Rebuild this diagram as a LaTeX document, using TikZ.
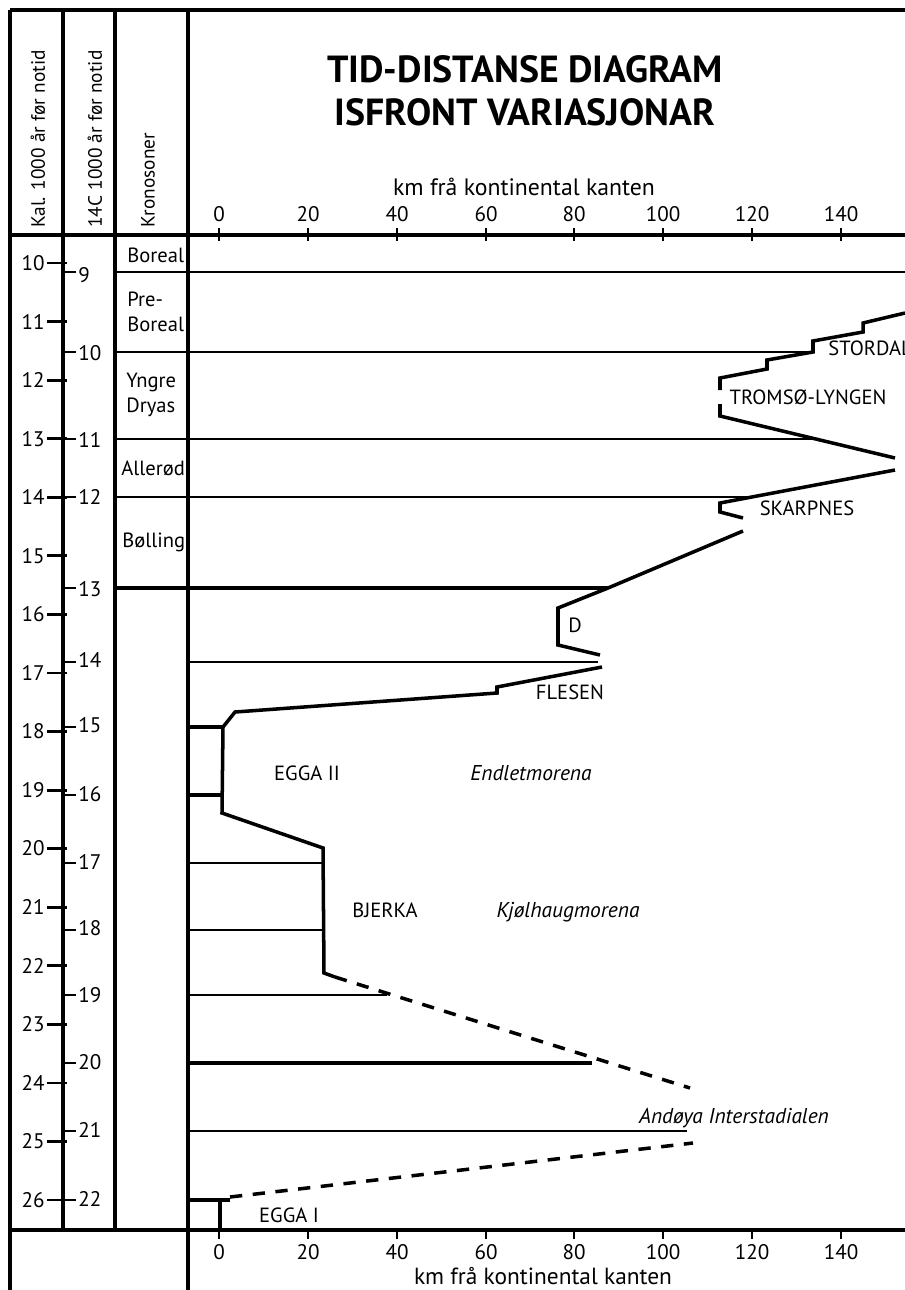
\documentclass[tikz,border=0pt]{standalone}
\usepackage{fontspec}
\setmainfont{PT Sans}

\begin{document}
\begin{tikzpicture}[x=0.2mm, y=-0.2mm, line width=1.6pt]
    \tikzstyle{every node} = [inner sep=0pt, font=\fontsize{11.7}{14}\selectfont]
    \tikzstyle{frame} = [line width=2pt]
    \tikzstyle{zone} = [line width=1.6pt]
    \tikzstyle{front} = [line width=2pt, line join=miter]
    \tikzstyle{lostfront} = [front, dash pattern=on 7pt off 6pt]
    \tikzstyle{colhead} = [rotate=90, anchor=west, font=\fontsize{11}{12}\selectfont]
    \tikzstyle{num} = [font=\fontsize{12}{14}\selectfont]
    \tikzstyle{moraine} = [font=\fontsize{12.2}{14}\selectfont\itshape]

    \useasboundingbox (0,0) rectangle (905,1290);

    % frame and columns
    \draw [frame] (10,10) -- (905,10);
    \draw [frame] (10,10) -- (10,1290);
    \draw [frame] (63,10) -- (63,1230);
    \draw [frame] (115,10) -- (115,1230);
    \draw [frame, line width=2.4pt] (188,10) -- (188,1290);
    \draw [frame] (10,235) -- (905,235);
    \draw [frame] (10,1230) -- (905,1230);

    \node (kal) at (38,229) [colhead] {Kal. 1000 år før notid};
    \node (c14) at (95,229) [colhead] {14C 1000 år før notid};
    \node (kron) at (148,229) [colhead] {Kronosoner};

    \node (title) at (525,91) [align=center, font=\fontsize{21.5}{24.5}\selectfont\bfseries]
        {TID-DISTANSE DIAGRAM\\ISFRONT VARIASJONAR};

    % top axis
    \node (xtop) at (524,187) [font=\fontsize{13.5}{15}\selectfont] {km frå kontinental kanten};
    \draw (219,228) -- (219,241) (308,228) -- (308,241) (397,228) -- (397,241)
          (486,228) -- (486,241) (574,228) -- (574,241) (663,228) -- (663,241)
          (752,228) -- (752,241) (841,228) -- (841,241);
    \node (t0) at (219,214) [num] {0};
    \node (t20) at (308,214) [num] {20};
    \node (t40) at (397,214) [num] {40};
    \node (t60) at (486,214) [num] {60};
    \node (t80) at (574,214) [num] {80};
    \node (t100) at (663,214) [num] {100};
    \node (t120) at (752,214) [num] {120};
    \node (t140) at (841,214) [num] {140};

    % bottom axis
    \draw (219,1230) -- (219,1239) (308,1230) -- (308,1239) (397,1230) -- (397,1239)
          (486,1230) -- (486,1239) (574,1230) -- (574,1239) (663,1230) -- (663,1239)
          (752,1230) -- (752,1239) (841,1230) -- (841,1239);
    \node (b0) at (219,1252) [num] {0};
    \node (b20) at (308,1252) [num] {20};
    \node (b40) at (397,1252) [num] {40};
    \node (b60) at (486,1252) [num] {60};
    \node (b80) at (574,1252) [num] {80};
    \node (b100) at (663,1252) [num] {100};
    \node (b120) at (752,1252) [num] {120};
    \node (b140) at (841,1252) [num] {140};
    \node (xbot) at (543,1276) [font=\fontsize{13.3}{15}\selectfont] {km frå kontinental kanten};

    % calendar years
    \draw (47,263) -- (67,263) (47,321.6) -- (67,321.6) (47,380.1) -- (67,380.1)
          (47,438.7) -- (67,438.7) (47,497.3) -- (67,497.3) (47,555.8) -- (67,555.8)
          (47,614.4) -- (67,614.4) (47,672.9) -- (67,672.9) (47,731.5) -- (67,731.5)
          (47,790.1) -- (67,790.1) (47,848.6) -- (67,848.6) (47,907.2) -- (67,907.2)
          (47,965.8) -- (67,965.8) (47,1024.3) -- (67,1024.3) (47,1082.9) -- (67,1082.9)
          (47,1141.4) -- (67,1141.4) (47,1200) -- (67,1200);
    \node (k10) at (46,263) [num, anchor=east] {10};
    \node (k11) at (46,321.6) [num, anchor=east] {11};
    \node (k12) at (46,380.1) [num, anchor=east] {12};
    \node (k13) at (46,438.7) [num, anchor=east] {13};
    \node (k14) at (46,497.3) [num, anchor=east] {14};
    \node (k15) at (46,555.8) [num, anchor=east] {15};
    \node (k16) at (46,614.4) [num, anchor=east] {16};
    \node (k17) at (46,672.9) [num, anchor=east] {17};
    \node (k18) at (46,731.5) [num, anchor=east] {18};
    \node (k19) at (46,790.1) [num, anchor=east] {19};
    \node (k20) at (46,848.6) [num, anchor=east] {20};
    \node (k21) at (46,907.2) [num, anchor=east] {21};
    \node (k22) at (46,965.8) [num, anchor=east] {22};
    \node (k23) at (46,1024.3) [num, anchor=east] {23};
    \node (k24) at (46,1082.9) [num, anchor=east] {24};
    \node (k25) at (46,1141.4) [num, anchor=east] {25};
    \node (k26) at (46,1200) [num, anchor=east] {26};

    % radiocarbon years
    \draw (63,272) -- (76,272) (63,352) -- (76,352) (63,439) -- (76,439)
          (63,497) -- (76,497) (63,588) -- (76,588) (63,662) -- (76,662)
          (63,727) -- (76,727) (63,795) -- (76,795) (63,863) -- (76,863)
          (63,930) -- (76,930) (63,995) -- (76,995) (63,1063) -- (76,1063)
          (63,1131) -- (76,1131) (63,1200) -- (76,1200);
    \node (r9) at (77,275) [num, anchor=west] {9};
    \node (r10) at (77,353) [num, anchor=west] {10};
    \node (r11) at (77,440) [num, anchor=west] {11};
    \node (r12) at (77,497) [num, anchor=west] {12};
    \node (r13) at (77,589) [num, anchor=west] {13};
    \node (r14) at (77,660) [num, anchor=west] {14};
    \node (r15) at (77,725) [num, anchor=west] {15};
    \node (r16) at (77,794) [num, anchor=west] {16};
    \node (r17) at (77,862) [num, anchor=west] {17};
    \node (r18) at (77,928) [num, anchor=west] {18};
    \node (r19) at (77,995) [num, anchor=west] {19};
    \node (r20) at (77,1062) [num, anchor=west] {20};
    \node (r21) at (77,1130) [num, anchor=west] {21};
    \node (r22) at (77,1199) [num, anchor=west] {22};

    % chronozones
    \node (bor) at (126,255) [anchor=west] {Boreal};
    \node (pre) at (126,312) [anchor=west, align=left] {Pre-\\Boreal};
    \node (yng) at (125,395) [anchor=west, align=left] {Yngre\\Dryas};
    \node (all) at (120,468) [anchor=west] {Allerød};
    \node (bol) at (121,542) [anchor=west] {Bølling};

    \draw [zone] (115,272) -- (905,272);
    \draw [zone] (115,352) -- (812,352);
    \draw [zone] (115,439) -- (816,439);
    \draw [zone] (115,497) -- (752,497);
    \draw [zone, line width=2pt] (115,588) -- (608,588);
    \draw [zone] (188,662) -- (598,662);
    \draw [zone, line width=2pt] (188,727) -- (223,727);
    \draw [zone, line width=2pt] (188,795) -- (222,795);
    \draw [zone] (188,863) -- (323,863);
    \draw [zone] (188,930) -- (323,930);
    \draw [zone] (188,995) -- (387,995);
    \draw [zone, line width=2pt] (188,1063) -- (592,1063);
    \draw [zone] (188,1131) -- (687,1131);
    \draw [zone, line width=2pt] (188,1200) -- (230,1200);

    % ice front
    \draw [front] (905,313) -- (863,323) -- (863,332) -- (813,341) -- (813,352) -- (767,360)
        -- (767,369) -- (720,378) -- (720,390) (720,404) -- (720,416) -- (895,458);
    \draw [front] (895,470) -- (720,503) -- (720,512) -- (743,518);
    \draw [front] (743,531) -- (608,588) -- (558,608) -- (558,645) -- (600,655);
    \draw [front] (602,667) -- (497,687) -- (497,693) -- (235,712) -- (223,727) -- (222,813)
        -- (323,848) -- (324,973) -- (335,977);
    \draw [lostfront] (335,977) -- (690,1088);
    \draw [lostfront] (230,1197) -- (693,1143);
    \draw [front] (220,1200) -- (220,1230);

    \node (stor) at (827,348) [anchor=west] {STORDAL};
    \node (trom) at (808,397) {TROMSØ-LYNGEN};
    \node (skar) at (807,508) {SKARPNES};
    \node (d) at (575,625) {D};
    \node (fles) at (570,692) {FLESEN};
    \node (egga2) at (307,773) {EGGA II};
    \node (endl) at (531,773) [moraine] {Endletmorena};
    \node (bjer) at (385,910) {BJERKA};
    \node (kjol) at (568,912) [moraine] {Kjølhaugmorena};
    \node (ando) at (734,1118) [moraine] {Andøya Interstadialen};
    \node (egga1) at (289,1215) {EGGA I};
\end{tikzpicture}
\end{document}
